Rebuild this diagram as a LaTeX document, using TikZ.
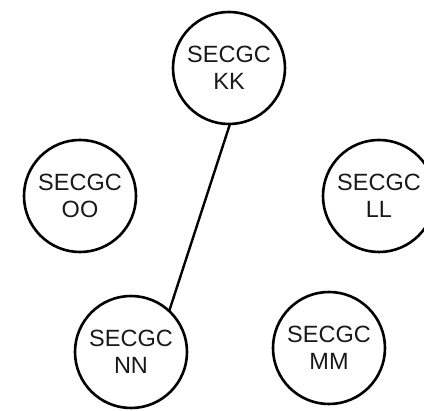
\documentclass[tikz,border=0pt]{standalone}
\usepackage{fontspec}
\setmainfont{Liberation Sans}
\begin{document}
\begin{tikzpicture}[x=1pt,y=1pt,
  sec/.style={draw=black, line width=2.6pt, circle, minimum size=112pt, inner sep=0pt, outer sep=0pt,
    align=center, text=black!90, font=\fontsize{23.5}{27}\selectfont},
  link/.style={draw=black, line width=2.4pt}]
\useasboundingbox (0,0) rectangle (424,-411);
\node[sec] (kk) at (229,-68) {SECGC\\KK};
\node[sec] (oo) at (80,-196) {SECGC\\OO};
\node[sec] (ll) at (379,-196) {SECGC\\LL};
\node[sec] (nn) at (131,-352) {SECGC\\NN};
\node[sec] (mm) at (329,-348) {SECGC\\MM};
\draw[link] (kk.-89) -- (nn.47);
\end{tikzpicture}
\end{document}
